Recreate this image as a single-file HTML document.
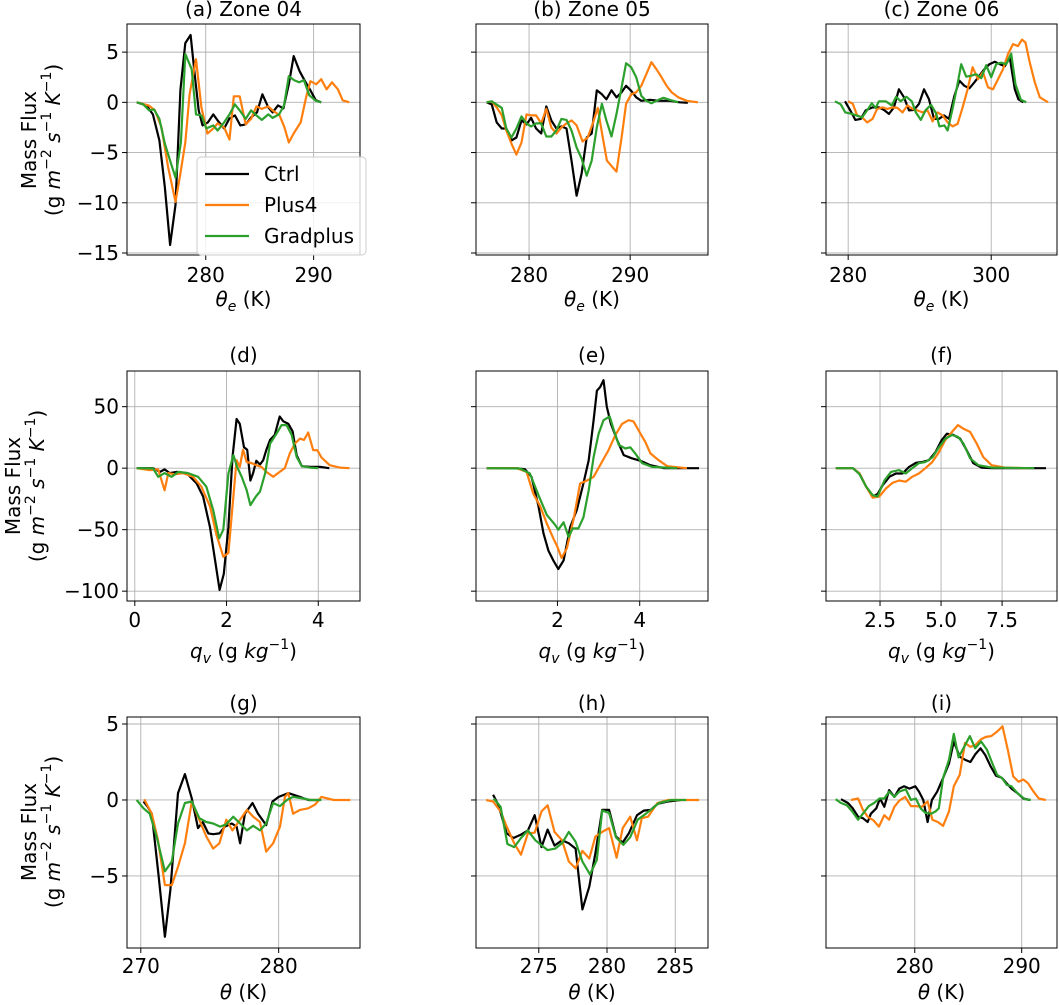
<!DOCTYPE html>
<html><head><meta charset="utf-8">
<style>
html,body{margin:0;padding:0;background:#fff;}
svg{display:block;font-family:"DejaVu Sans","Liberation Sans",sans-serif;}
</style></head>
<body>
<svg id="fig" width="1059" height="1005" viewBox="0 0 1059 1005" xmlns="http://www.w3.org/2000/svg"></svg>
<script>
// ---- data: [x, y] pairs per series ----
const aCtrl=[[273.6,0],[274.5,-0.3],[275.1,-1.2],[275.7,-3.8],[276.2,-8.4],[276.7,-14.2],[277.2,-10.2],[277.65,1.2],[278.1,5.9],[278.6,6.7],[279,2.5],[279.35,-0.8],[279.7,-2.3],[280.2,-2],[280.7,-1.2],[281.1,-1.8],[281.7,-2.6],[282.2,-1.6],[282.7,-1.3],[283.2,-2.3],[283.7,-2.2],[284.2,-1.5],[284.75,-1],[285.25,0.8],[285.8,-0.5],[286.2,-1],[286.7,-0.3],[287.2,-0.6],[287.7,1.8],[288.15,4.6],[288.7,3.1],[289.2,2.1],[289.7,1.2],[290.2,0.2],[290.7,0]];
const aPlus4=[[273.6,0],[274.7,-0.3],[275.3,-0.8],[275.9,-2.5],[276.5,-6.4],[277.2,-9.9],[277.65,-7.1],[278.1,-4],[278.5,0.8],[279.1,4.3],[279.6,-0.5],[280.15,-3.1],[280.7,-2.6],[281.1,-2.1],[281.7,-2.5],[282.2,-3.7],[282.6,0.6],[283.15,0.6],[283.7,-2.2],[284.2,-1.65],[284.7,-0.4],[285.2,-0.65],[285.8,-0.4],[286.2,-0.8],[286.85,-1.3],[287.3,-2.5],[287.7,-4],[288.2,-3],[288.8,-2],[289.3,0.5],[289.7,2.1],[290.25,1.8],[290.7,2.3],[291.2,1.3],[291.7,2],[292.25,1.3],[292.7,0.2],[293.3,0]];
const aGrad=[[273.6,0],[274.2,-0.2],[274.75,-0.8],[275.2,-0.7],[275.7,-1.65],[276.2,-4.1],[276.7,-5.8],[277.2,-7.5],[277.7,-4],[278.1,4.8],[278.7,3.3],[279.1,-1.2],[279.6,-1.3],[280.05,-2.6],[280.7,-2.3],[281.1,-2.8],[281.7,-2],[282.2,-1.2],[282.7,-0.2],[283.15,-0.8],[283.7,-1.65],[284.2,-0.8],[284.7,-1.3],[285.2,-1.75],[285.8,-1.2],[286.2,-1.55],[286.8,-1.2],[287.25,-0.3],[287.7,2.6],[288.2,2.2],[288.65,2],[289.1,2.2],[289.6,0.7],[290.2,0.15],[290.7,0]];

const bCtrl=[[275.8,0],[276.3,-0.2],[276.8,-2],[277.3,-2.6],[277.75,-2.6],[278.25,-3.8],[278.75,-3.5],[279.25,-1.8],[279.75,-2.2],[280.2,-1.55],[280.7,-2.6],[281.2,-3.1],[281.7,-0.4],[282.2,-1.8],[282.7,-2.6],[283.2,-2.4],[283.7,-2.6],[284.2,-5.8],[284.7,-9.3],[285.2,-7.1],[285.7,-3.5],[286.2,-3.1],[286.7,1.2],[287.2,0.8],[287.65,0.3],[288.15,1.2],[288.65,0.5],[289.15,1],[289.6,1.65],[290.1,1.15],[290.6,0.5],[291.1,0.15],[291.95,0.25],[292.9,0.15],[293.9,0.15],[294.9,0],[295.7,-0.05]];
const bPlus4=[[275.8,0],[276.3,0.1],[276.8,-0.5],[277.3,-1.3],[277.75,-2.8],[278.25,-4.1],[278.75,-5.2],[279.25,-4],[279.75,-1.2],[280.2,-1.3],[280.7,-1.3],[281.2,-2.1],[281.7,-0.65],[282.2,-2.5],[282.7,-3.1],[283.2,-2.5],[283.7,-2.1],[284.2,-1.8],[284.7,-2.3],[285.3,-3.9],[285.8,-3.5],[286.3,-2.1],[286.8,-0.55],[287.25,-3.3],[287.7,-5.8],[288.2,-6.4],[288.65,-6.9],[289.15,-3.5],[289.6,-0.15],[290.1,0.8],[290.6,1],[291.1,1.65],[291.6,2.8],[292.1,4],[292.6,3.3],[293.1,2.5],[293.6,1.65],[294.1,1],[294.75,0.5],[295.6,0.15],[296.7,0]];
const bGrad=[[275.8,0],[276.3,0.1],[277.3,-0.55],[277.75,-2.6],[278.25,-3.5],[278.75,-2.6],[279.25,-1.4],[279.75,-2.1],[280.2,-2.4],[280.7,-2.1],[281.2,-2.1],[281.7,-3.4],[282.2,-3.4],[282.7,-2.8],[283.2,-1.65],[283.7,-1.75],[284.2,-2.8],[284.7,-4.5],[285.2,-5.6],[285.7,-7.3],[286.2,-5.8],[286.7,-2.5],[287.2,-0.15],[287.65,-1.8],[288.15,-3.4],[288.65,-1.15],[289.15,1.5],[289.6,3.9],[290.1,3.5],[290.6,2.5],[291.1,0.65],[291.6,0.15],[292.1,-0.1],[292.8,0.25],[293.3,0.45],[293.9,0.25],[294.75,0]];

const cCtrl=[[279.55,0.1],[280.3,-0.8],[281,-1.75],[281.75,-1.65],[282.45,-0.8],[283.4,-0.5],[284.3,-0.5],[285,-0.75],[285.7,-1.15],[286.4,-0.5],[287.1,1.3],[287.8,0.5],[288.5,-0.8],[289.2,-0.75],[289.9,-0.15],[290.6,1.3],[291.3,0.3],[292,-1.65],[292.7,-1.65],[293.4,-1.3],[294.1,-1.65],[294.85,0.65],[295.55,2.15],[296.25,1.65],[296.95,1.4],[297.65,2],[298.35,2.65],[299.05,3.3],[299.75,3.8],[300.5,4.05],[301.2,3.8],[301.9,3.6],[302.6,4.45],[303.3,1.3],[303.8,0.3],[304.5,0]];
const cPlus4=[[280,0.1],[280.65,-0.15],[281.25,-1.3],[281.95,-1.5],[282.65,-2],[283.4,-1.65],[284.05,-0.65],[284.8,-0.5],[285.5,-0.65],[286.2,-0.5],[286.9,-0.55],[287.6,-1],[288.3,-0.3],[289,-0.65],[289.7,-0.8],[290.4,-1],[291.1,-0.8],[291.8,-1.9],[292.5,-1],[293.2,-1.3],[293.9,-2],[294.6,-2.4],[295.3,-2.15],[296,-0.5],[296.7,1.3],[297.4,3.5],[298.15,2.3],[298.85,3],[299.55,1.5],[300.25,1.3],[300.95,2.3],[301.65,3.3],[302.35,4.8],[303.05,5.8],[303.75,5.6],[304.3,6.25],[304.8,5.95],[305.4,3.95],[306.1,2],[306.8,0.5],[307.95,0]];
const cGrad=[[278.15,0.1],[278.95,-0.2],[279.6,-1],[280.55,-1.15],[281.95,-1.5],[282.65,-0.8],[283.3,-0.1],[283.85,-0.55],[284.3,0.1],[285.25,0.1],[286.1,-0.3],[286.7,0.55],[287.35,0.1],[288.15,0.55],[288.9,0.1],[289.45,-1],[290.15,-1.75],[290.85,-0.75],[291.6,-0.25],[292.3,-1.1],[292.75,-2.4],[293.45,-2.3],[293.9,-2.8],[294.55,-0.8],[295.25,1.65],[295.8,3.8],[296.5,2.55],[297.2,2.65],[297.9,2.8],[298.6,2.4],[299.3,3.7],[300,2.5],[300.7,3.8],[301.4,3.95],[302.1,3.8],[302.8,4.85],[303.4,1.8],[304.15,0.25],[304.9,0]];

const dCtrl=[[0.04,0],[0.4,0],[0.55,-3],[0.65,-1],[0.76,-4],[0.91,-3],[1.13,-4],[1.35,-12.5],[1.49,-23],[1.64,-48],[1.75,-75],[1.85,-99],[1.94,-86],[2.04,-48],[2.13,9],[2.22,40],[2.29,36],[2.38,17],[2.45,15],[2.52,-10],[2.58,-4],[2.65,6],[2.73,3],[2.8,6.5],[2.87,15],[2.95,23],[3.05,27],[3.16,42],[3.24,38],[3.35,36],[3.44,30],[3.53,10.5],[3.64,1.6],[3.82,1],[4.04,1],[4.24,0]];
const dPlus4=[[0.04,0],[0.33,-1.6],[0.51,-1],[0.65,-18],[0.73,-4],[0.87,-5],[1.05,-4],[1.27,-7],[1.45,-15],[1.64,-31],[1.78,-54],[1.93,-72],[2.04,-69],[2.13,-31],[2.22,6.5],[2.29,1],[2.36,15],[2.44,5],[2.55,4],[2.65,2.4],[2.76,1],[2.87,-3],[3.02,-7],[3.16,-3],[3.27,0],[3.38,12],[3.49,20],[3.6,24],[3.69,23],[3.78,29],[3.89,14.6],[3.98,14.6],[4.07,8.7],[4.25,2.4],[4.47,0.5],[4.68,0]];
const dGrad=[[0.04,0],[0.4,-0.3],[0.51,-7],[0.65,-4],[0.8,-7],[0.95,-3],[1.16,-4],[1.38,-7],[1.56,-15],[1.71,-34],[1.84,-57],[1.93,-50],[2.04,-4.3],[2.15,10.6],[2.23,1],[2.33,-7],[2.44,-18],[2.52,-30],[2.64,-23],[2.73,-19],[2.84,-4.3],[2.95,20],[3.09,28],[3.2,35],[3.31,35],[3.42,27],[3.53,9],[3.64,1.6],[3.82,0.5],[4,0]];

const eCtrl=[[0.28,0],[1.01,0],[1.21,-1],[1.37,-7],[1.54,-31],[1.66,-53],[1.78,-67],[1.9,-75],[2.02,-82],[2.15,-75],[2.31,-48],[2.47,-34],[2.63,-12.5],[2.76,6.5],[2.88,39],[2.96,63],[3.04,66],[3.12,71.5],[3.2,50],[3.3,36],[3.45,23],[3.61,10.6],[3.81,8],[4.02,6],[4.26,2.4],[4.59,0],[5.44,0]];
const ePlus4=[[0.28,0],[1.01,0],[1.25,-3],[1.41,-20.6],[1.58,-31],[1.74,-45],[1.9,-57],[2,-64],[2.1,-73],[2.23,-65],[2.39,-42],[2.55,-12.5],[2.72,-10],[2.88,-7],[3.08,5],[3.24,14.6],[3.41,27],[3.57,36],[3.73,39],[3.85,38],[4.02,28],[4.14,21],[4.26,12],[4.46,6.5],[4.67,1.6],[5.15,0]];
const eGrad=[[0.28,0],[1.09,-0.3],[1.33,-4.3],[1.54,-22],[1.74,-38],[1.94,-46],[2.02,-50],[2.15,-44],[2.27,-56],[2.37,-49],[2.51,-49],[2.63,-40],[2.76,-18],[2.88,9],[3,28],[3.12,39],[3.27,42],[3.37,31],[3.49,19],[3.65,16],[3.77,17],[3.89,12],[4.06,4],[4.3,1],[4.91,0]];

const fCtrl=[[0.69,0],[1.39,0],[1.66,-4.3],[1.93,-15],[2.2,-23],[2.4,-21],[2.6,-14],[2.88,-7],[3.15,-4.3],[3.42,-4.3],[3.69,1],[3.96,4.3],[4.23,5],[4.5,6.5],[4.77,13],[5.03,23],[5.24,28],[5.51,27],[5.78,24],[6.05,14.6],[6.32,4],[6.66,0.5],[7.07,0],[9.3,0]];
const fPlus4=[[0.69,0],[1.39,0],[1.66,-4.3],[1.93,-15],[2.2,-24],[2.47,-23],[2.74,-16.5],[3.01,-12],[3.28,-10],[3.55,-11],[3.82,-7],[4.09,-4.3],[4.36,0],[4.64,5],[4.91,13],[5.18,23],[5.45,29.5],[5.69,35],[5.92,32],[6.19,29.5],[6.46,20],[6.73,9],[7.07,2.4],[7.61,0.5],[8.55,0]];
const fGrad=[[0.69,0],[1.39,0],[1.66,-4.9],[1.93,-15],[2.2,-22],[2.4,-23],[2.68,-10],[2.95,-3],[3.28,-1.6],[3.55,-4.3],[3.82,0],[4.09,4],[4.36,5],[4.64,8.7],[4.91,17],[5.18,24],[5.45,27],[5.69,25.5],[5.92,20],[6.19,8],[6.53,2.4],[7.07,0.5],[8.82,0]];

const gCtrl=[[270.2,-0.1],[270.5,-0.45],[270.8,-0.9],[271.3,-5.05],[271.75,-9],[272.15,-5.9],[272.7,0.45],[273.2,1.7],[273.7,0.1],[274.15,-1.85],[274.5,-1.45],[274.9,-2.2],[275.25,-2.25],[275.7,-2.2],[276.1,-1.75],[276.6,-1.55],[276.95,-1.75],[277.2,-2.85],[277.55,-0.9],[278.1,-0.2],[278.5,-0.9],[279.1,-1.65],[279.55,-0.1],[280,0.2],[280.7,0.45],[281.55,0.2],[282.15,0],[283,0]];
const gPlus4=[[270.25,0.05],[270.8,-0.9],[271.25,-2.65],[271.75,-5.6],[272.25,-5.6],[272.7,-4.4],[273.2,-2.85],[273.7,-0.1],[274.15,-1.1],[274.75,-2.4],[275.25,-3.2],[275.7,-2.85],[276.2,-1.3],[276.65,-2],[277.2,-1.3],[277.7,-0.65],[278.15,-1.1],[278.65,-1.45],[279.1,-3.4],[279.6,-2.85],[280.1,-1.75],[280.45,0.2],[280.7,0.45],[281.05,-0.9],[281.55,-0.65],[282.15,-0.55],[282.65,-0.3],[283.1,0.2],[284,0],[285.2,0]];
const gGrad=[[269.7,0],[270.2,-0.55],[270.65,-0.9],[271.15,-2.4],[271.75,-4.7],[272.25,-4.05],[272.7,-1.55],[273.2,-0.2],[273.7,-0.1],[274.25,-1.2],[274.75,-1.45],[275.25,-1.55],[275.75,-1.75],[276.2,-1.6],[276.7,-1.1],[277.2,-1.55],[277.7,-2],[278.15,-1.7],[278.65,-2],[279.1,-1.55],[279.6,-0.2],[280.1,-0.4],[280.6,0],[281.05,0.2],[281.8,0.1],[282.3,0],[283.1,0]];

const hCtrl=[[271.65,0.35],[272.05,-0.35],[272.65,-2.2],[273.15,-2.5],[273.65,-2.3],[274.2,-2],[274.7,-1],[275.2,-3.1],[275.65,-1.95],[276.15,-3],[276.7,-2.65],[277.2,-2.85],[277.7,-3.2],[278.2,-7.2],[278.7,-5.7],[279.15,-3.5],[279.65,-0.65],[280.15,-0.65],[280.65,-2.4],[281.15,-2.8],[281.6,-2.2],[282.2,-1],[282.7,-0.7],[283.2,-0.65],[283.7,-0.25],[284.45,-0.1],[285.4,0]];
const hPlus4=[[271.15,0],[271.65,-0.1],[272.2,-0.75],[272.65,-1.75],[273.2,-2.85],[273.7,-3.6],[274.2,-2.2],[274.7,-2.15],[275.2,-0.75],[275.65,-0.35],[276.15,-2.1],[276.7,-2.65],[277.2,-4.05],[277.7,-4.5],[278.2,-3.35],[278.7,-3.85],[279.15,-2.4],[279.65,-2.1],[280.15,-1.85],[280.7,-3.8],[281.15,-1.85],[281.7,-1.1],[282.2,-2.65],[282.55,-1.2],[283,-1.1],[283.7,-0.2],[284.45,0],[286.75,0]];
const hGrad=[[271.7,0.1],[272.2,-0.45],[272.7,-2.9],[273.2,-3.1],[273.7,-2.5],[274.2,-2],[274.75,-2.65],[275.65,-3.3],[276.2,-3.2],[276.7,-2.85],[277.2,-2.1],[277.7,-2.75],[278.2,-4.05],[278.75,-4.9],[279.25,-3.95],[279.65,-0.7],[280.15,-0.85],[280.65,-2.45],[281.2,-2.95],[281.7,-2.45],[282.25,-1.3],[282.85,-0.9],[283.35,-0.55],[283.8,-0.2],[284.7,0],[285.8,0]];

const iCtrl=[[273.1,0.05],[273.75,-0.2],[274.2,-0.55],[274.7,-1.1],[275.15,-1.2],[275.6,-1.45],[275.9,-0.9],[276.4,-0.55],[276.75,0.1],[277.15,-0.45],[277.6,0.65],[278.1,0.2],[278.55,0.75],[279,0.9],[279.5,0.75],[280.05,0.9],[280.4,0.55],[280.8,0],[281.2,-1.45],[281.6,0],[282.1,0.55],[282.65,1.45],[283.2,2.4],[283.65,3.85],[284.2,2.85],[284.7,2.65],[285.2,2.5],[285.65,3],[286.15,3.4],[286.6,2.95],[287.1,2.2],[287.6,1.6],[288.15,1.45],[288.6,1.1],[289.05,0.75],[289.6,0.45],[290.15,0.1],[290.75,0]];
const iPlus4=[[274.05,0],[274.7,0.1],[275.15,-0.65],[275.6,-1.1],[276.15,-1.35],[276.65,-1.75],[277.15,-1],[277.6,-1.3],[278.1,-0.45],[278.55,-0.05],[279.1,0.2],[279.65,-0.4],[280.1,-0.4],[280.65,-0.45],[281.2,-0.1],[281.65,-1.3],[282.15,-1.45],[282.65,-1.7],[283.2,-0.75],[283.65,0.9],[284.2,1.65],[284.7,3.75],[285.2,3.5],[285.65,3.6],[286.2,4],[286.65,4.15],[287.15,4.2],[287.7,4.5],[288.2,4.85],[288.7,3.3],[289.2,1.55],[289.7,1.2],[290.15,1.35],[290.6,1.1],[291.1,0.55],[291.6,0.1],[292.25,0]];
const iGrad=[[272.6,0.05],[273.1,-0.2],[273.65,-0.35],[274.15,-0.75],[274.7,-1.3],[275.15,-0.9],[275.7,-0.4],[276.2,-0.2],[276.7,0.1],[277.15,0.1],[277.6,0.55],[278.1,0.2],[278.55,0.55],[279.15,0.7],[279.65,0],[280.1,0.1],[280.55,-0.55],[281,-0.85],[281.55,-0.9],[281.95,-0.75],[282.25,-0.55],[282.65,1.45],[283.2,2.65],[283.65,4.35],[284.1,2.8],[284.7,3.6],[285.15,4.2],[285.65,3.4],[286.2,3.85],[286.75,3.3],[287.2,2.5],[287.7,1.65],[288.15,1.45],[288.6,1],[289.05,0.9],[289.6,0.45],[290.3,0.05],[290.85,0]];

// ---- tick values ----
const yTicksRow1=[-15,-10,-5,0,5];
const yTicksRow2=[-100,-50,0,50];
const yTicksRow3=[-5,0,5];
const xTicksA=[280,290], xTicksB=[280,290], xTicksC=[280,300];
const xTicksD=[0,2,4], xTicksE=[2,4], xTicksF=[2.5,5.0,7.5];
const xTicksG=[270,280], xTicksH=[275,280,285], xTicksI=[280,290];
const seriesNames=['Ctrl','Plus4','Gradplus'];

// ---- layout (not data) ----
const NS='http://www.w3.org/2000/svg';
const svg=document.getElementById('fig');
const colL=[127,476,826], colR=[360,708,1057];
const rowT=[24,371,717], rowB=[255,601,948];
const rowY=[[-15.2,7.8],[-108,79],[-9.74,5.46]];
const colors=['#000000','#ff7f0e','#2ca02c'];
function mk(tag,attrs,parent){const e=document.createElementNS(NS,tag);for(const k in attrs)e.setAttribute(k,attrs[k]);(parent||svg).appendChild(e);return e;}
function fmt(v,dec){let s=dec?v.toFixed(1):String(v);return s.replace('-','\u2212');}

const panels=[
 {id:'a',title:'(a) Zone 04',r:0,c:0,xr:[272.7,294.3],xt:xTicksA,s:[aCtrl,aPlus4,aGrad],xl:'te'},
 {id:'b',title:'(b) Zone 05',r:0,c:1,xr:[274.75,297.7],xt:xTicksB,s:[bCtrl,bPlus4,bGrad],xl:'te'},
 {id:'c',title:'(c) Zone 06',r:0,c:2,xr:[276.9,309.2],xt:xTicksC,s:[cCtrl,cPlus4,cGrad],xl:'te'},
 {id:'d',title:'(d)',r:1,c:0,xr:[-0.17,4.91],xt:xTicksD,s:[dCtrl,dPlus4,dGrad],xl:'qv'},
 {id:'e',title:'(e)',r:1,c:1,xr:[0.02,5.66],xt:xTicksE,s:[eCtrl,ePlus4,eGrad],xl:'qv'},
 {id:'f',title:'(f)',r:1,c:2,xr:[0.287,9.75],xt:xTicksF,s:[fCtrl,fPlus4,fGrad],xl:'qv',dec:1},
 {id:'g',title:'(g)',r:2,c:0,xr:[269.0,285.9],xt:xTicksG,s:[gCtrl,gPlus4,gGrad],xl:'t'},
 {id:'h',title:'(h)',r:2,c:1,xr:[270.4,287.4],xt:xTicksH,s:[hCtrl,hPlus4,hGrad],xl:'t'},
 {id:'i',title:'(i)',r:2,c:2,xr:[271.7,293.3],xt:xTicksI,s:[iCtrl,iPlus4,iGrad],xl:'t'}
];
const yTicksByRow=[yTicksRow1,yTicksRow2,yTicksRow3];
const titleY=[16,362,710], tickLblY=[282,627,973], xlabY=[306,658,999];

panels.forEach(p=>{
  const L=colL[p.c],R=colR[p.c],T=rowT[p.r],B=rowB[p.r],yr=rowY[p.r];
  const sx=v=>L+(v-p.xr[0])/(p.xr[1]-p.xr[0])*(R-L);
  const sy=v=>B-(v-yr[0])/(yr[1]-yr[0])*(B-T);
  const g=mk('g',{});
  
  
  // grid
  p.xt.forEach(v=>{const l=mk('line',{x1:sx(v),x2:sx(v),y1:T,y2:B,stroke:'#b0b0b0','stroke-width':0.9},g);
    });
  yTicksByRow[p.r].forEach(v=>{const l=mk('line',{x1:L,x2:R,y1:sy(v),y2:sy(v),stroke:'#b0b0b0','stroke-width':0.9},g);
    });
  // series
  const clipId='clip'+p.id;
  const cp=mk('clipPath',{id:clipId},g);mk('rect',{x:L,y:T,width:R-L,height:B-T},cp);
  p.s.forEach((ser,k)=>{
    const d=ser.map((pt,i)=>(i?'L':'M')+sx(pt[0]).toFixed(1)+' '+sy(pt[1]).toFixed(1)).join(' ');
    const path=mk('path',{d:d,fill:'none',stroke:colors[k],'stroke-width':2.2,'stroke-linejoin':'round','clip-path':'url(#'+clipId+')'},g);
    
    
  });
  // frame
  const fr=mk('rect',{x:L,y:T,width:R-L,height:B-T,fill:'none',stroke:'#000','stroke-width':1},g);
  
  // x ticks
  p.xt.forEach(v=>{
    mk('line',{x1:sx(v),x2:sx(v),y1:B,y2:B+5,stroke:'#000','stroke-width':1},g);
    const t=mk('text',{x:sx(v),y:tickLblY[p.r],'text-anchor':'middle','font-size':20,fill:'#000'},g);
    t.textContent=fmt(v,p.dec);
    
  });
  // y ticks
  yTicksByRow[p.r].forEach(v=>{
    mk('line',{x1:L-5,x2:L,y1:sy(v),y2:sy(v),stroke:'#000','stroke-width':1},g);
    if(p.c===0){const t=mk('text',{x:L-8,y:sy(v)+7,'text-anchor':'end','font-size':20,fill:'#000'},g);
      t.textContent=fmt(v);
      }
  });
  // title
  const tt=mk('text',{x:(L+R)/2,y:titleY[p.r],'text-anchor':'middle','font-size':20,fill:'#000'},g);
  tt.textContent=p.title;
  
  // x label
  const xl=mk('text',{x:(L+R)/2,y:xlabY[p.r],'text-anchor':'middle','font-size':20,fill:'#000'},g);
  
  if(p.xl==='te') xl.innerHTML='<tspan font-style="italic">θ</tspan><tspan font-style="italic" font-size="14" dy="5">e</tspan><tspan dy="-5"> (K)</tspan>';
  else if(p.xl==='qv') xl.innerHTML='<tspan font-style="italic">q</tspan><tspan font-style="italic" font-size="14" dy="5">v</tspan><tspan dy="-5"> (g </tspan><tspan font-style="italic">kg</tspan><tspan font-size="14" dy="-9">−1</tspan><tspan dy="9">)</tspan>';
  else xl.innerHTML='<tspan font-style="italic">θ</tspan> (K)';
});

// y-axis titles
const ylabCenters=[140,486,832];
const ylabX1=[36,20,36], ylabX2=[60,44,60];
ylabCenters.forEach((cy,r)=>{
  const t1=mk('text',{x:ylabX1[r],y:cy,'text-anchor':'middle','font-size':20,transform:'rotate(-90 '+ylabX1[r]+' '+cy+')'});
  t1.textContent='Mass Flux';
  
  const t2=mk('text',{x:ylabX2[r],y:cy,'text-anchor':'middle','font-size':20,transform:'rotate(-90 '+ylabX2[r]+' '+cy+')'});
  t2.innerHTML='(g <tspan font-style="italic">m</tspan><tspan font-size="14" dy="-9">−2</tspan><tspan dy="9"> </tspan><tspan font-style="italic">s</tspan><tspan font-size="14" dy="-9">−1</tspan><tspan dy="9"> </tspan><tspan font-style="italic">K</tspan><tspan font-size="14" dy="-9">−1</tspan><tspan dy="9">)</tspan>';
  
});

// legend
const lg=mk('g',{});


mk('rect',{x:197,y:157,width:169,height:98,rx:4,fill:'#fff','fill-opacity':0.8,stroke:'#cccccc','stroke-width':1},lg);
seriesNames.forEach((n,k)=>{
  const y=174+k*31;
  const ln=mk('line',{x1:205,x2:249,y1:y,y2:y,stroke:colors[k],'stroke-width':2.2},lg);
  
  const t=mk('text',{x:264,y:y+7,'font-size':20,fill:'#000'},lg);
  t.textContent=n;
  
});
</script>
</body></html>
